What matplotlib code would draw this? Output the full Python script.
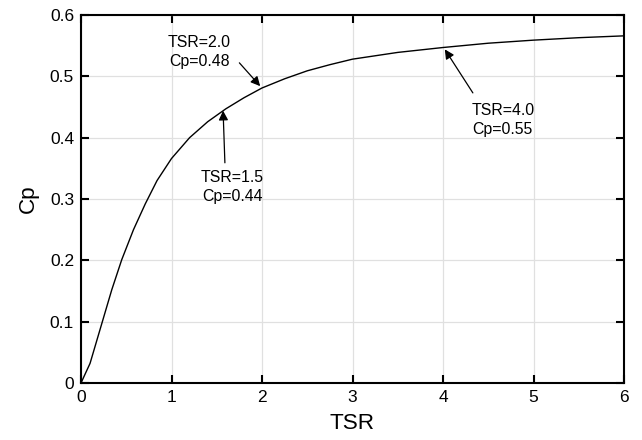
import numpy as np
from matplotlib import pyplot as plt

plt.rcParams['font.family'] = ['Liberation Sans', 'DejaVu Sans']

# values
tsr = [0, 0.1, 0.23, 0.34, 0.45, 0.58, 0.71, 0.84, 1.0, 1.2, 1.4, 1.6,
       1.8, 2.0, 2.25, 2.5, 2.75, 3.0, 3.5, 4.0, 4.5, 5.0, 5.5, 6.0]
cp = [0, 0.032, 0.097, 0.152, 0.201, 0.250, 0.292, 0.330, 0.366, 0.400,
      0.426, 0.447, 0.465, 0.481, 0.496, 0.509, 0.519, 0.528, 0.539,
      0.547, 0.554, 0.559, 0.563, 0.566]

notes = ["TSR=2.0\nCp=0.48", "TSR=1.5\nCp=0.44", "TSR=4.0\nCp=0.55"]
note_xy = [(1.98, 0.484), (1.57, 0.444), (4.02, 0.544)]
note_text = [(1.31, 0.540), (1.67, 0.320), (4.66, 0.429)]
note_tail = [(1.75, 0.522), (1.59, 0.359), (4.33, 0.473)]

fig = plt.figure(figsize=(6.42, 4.4), dpi=100)
ax = fig.add_axes([81 / 642, 1 - 383 / 440, 543 / 642, 368 / 440])

ax.plot(tsr, cp, color="black", lw=1.0)

for txt, xy, tpos, tail in zip(notes, note_xy, note_text, note_tail):
    ax.text(tpos[0], tpos[1], txt, ha="center", va="center", fontsize=11.4,
            linespacing=1.35)
    ax.annotate("", xy=xy, xytext=tail,
                arrowprops=dict(arrowstyle="-|>", color="black", lw=0.9,
                                mutation_scale=14, shrinkA=0, shrinkB=0))

ax.set_xlim(0, 6)
ax.set_ylim(0, 0.6)
ax.set_xticks(np.arange(0, 7, 1))
ax.set_yticks(np.arange(0, 0.61, 0.1))
ax.set_xticklabels([str(i) for i in range(7)])
ax.set_yticklabels(["0", "0.1", "0.2", "0.3", "0.4", "0.5", "0.6"])
ax.tick_params(direction="in", top=True, right=True, length=6, width=1.5,
               labelsize=12.5, pad=5)
ax.grid(True, color="#e0e0e0", lw=0.9)
for s in ax.spines.values():
    s.set_linewidth(1.5)

ax.set_xlabel("TSR", fontsize=16.2, labelpad=6)
ax.set_ylabel("Cp", fontsize=16.2, labelpad=8)

fig.savefig("out.png", dpi=100)
